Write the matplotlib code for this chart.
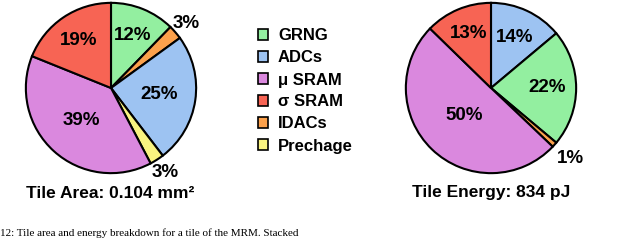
import numpy as np
import matplotlib
matplotlib.use('Agg')
import matplotlib.pyplot as plt
from matplotlib.patches import Patch

plt.rcParams['font.family'] = ['Liberation Sans', 'DejaVu Sans']
plt.rcParams['font.weight'] = 'bold'

# legend order and colours
categories = ['GRNG', 'ADCs', 'μ SRAM', 'σ SRAM', 'IDACs', 'Prechage']
colors = {
    'GRNG': '#93EFA0',
    'ADCs': '#9DC3F2',
    'μ SRAM': '#DA88DE',
    'σ SRAM': '#F76454',
    'IDACs': '#FCA14C',
    'Prechage': '#F9F380',
}

# tile area breakdown (%), clockwise from 12 o'clock
area_order = ['GRNG', 'IDACs', 'ADCs', 'Prechage', 'μ SRAM', 'σ SRAM']
area_values = [12.3, 2.7, 24.6, 2.7, 38.8, 18.9]
area_title = 'Tile Area: 0.104 mm²'

# tile energy breakdown (%), clockwise from 12 o'clock
energy_order = ['ADCs', 'GRNG', 'IDACs', 'μ SRAM', 'σ SRAM']
energy_values = [13.9, 22.2, 1.0, 50.2, 12.7]
energy_title = 'Tile Energy: 834 pJ'

caption = '12: Tile area and energy breakdown for a tile of the MRM. Stacked'


def draw_pie(ax, order, values, label_dist):
    wedges, _ = ax.pie(
        values,
        colors=[colors[c] for c in order],
        startangle=90,
        counterclock=False,
        wedgeprops=dict(edgecolor='black', linewidth=1.5),
    )
    for w, v, d in zip(wedges, values, label_dist):
        mid = np.deg2rad((w.theta1 + w.theta2) / 2)
        ax.text(d * np.cos(mid), d * np.sin(mid), f'{v:.0f}%',
                ha='center', va='center', fontsize=13.5, fontweight='bold')
    ax.set_xlim(-1.01, 1.01)
    ax.set_ylim(-1.01, 1.01)
    ax.set_aspect('equal')
    ax.axis('off')


fig = plt.figure(figsize=(6.18, 2.4), dpi=100)

ax1 = fig.add_axes([25 / 618, 66 / 240, 172 / 618, 172 / 240])
draw_pie(ax1, area_order, area_values, [0.66, 1.16, 0.57, 1.18, 0.52, 0.67])

ax2 = fig.add_axes([405 / 618, 66 / 240, 172 / 618, 172 / 240])
draw_pie(ax2, energy_order, energy_values, [0.66, 0.66, 1.25, 0.45, 0.69])

fig.text(110 / 618, 1 - 193 / 240, area_title, ha='center', va='center',
         fontsize=12.5, fontweight='bold')
fig.text(491 / 618, 1 - 192 / 240, energy_title, ha='center', va='center',
         fontsize=12.5, fontweight='bold')

handles = [Patch(facecolor=colors[c], edgecolor='black', linewidth=1.2)
           for c in categories]
fig.legend(handles, categories, loc='center left',
           bbox_to_anchor=(258 / 618, 1 - 91 / 240),
           frameon=False, borderpad=0, borderaxespad=0,
           handlelength=0.6, handleheight=0.6, handletextpad=0.6,
           labelspacing=0.42, prop=dict(size=12, weight='bold'))

fig.text(0.0, 2 / 240, caption, ha='left', va='bottom',
         fontsize=8, family=['Liberation Serif', 'DejaVu Serif'],
         fontweight='normal')

fig.savefig('out.png', dpi=100)
